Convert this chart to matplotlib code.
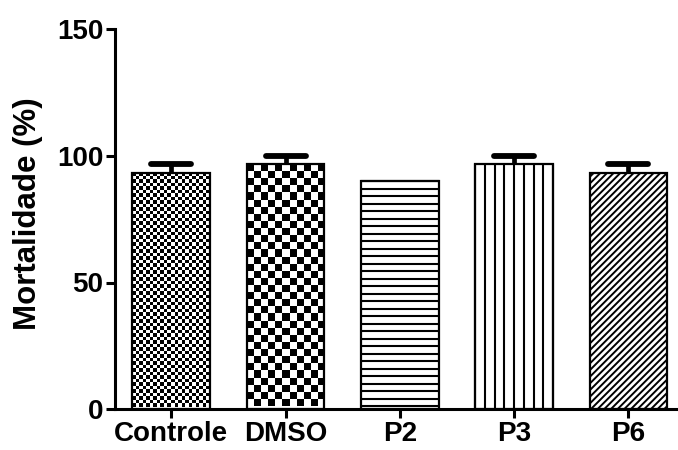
import numpy as np
import matplotlib
matplotlib.use("Agg")
import matplotlib.pyplot as plt

# data
groups = ["Controle", "DMSO", "P2", "P3", "P6"]
mortality = [93.33, 96.67, 90.0, 96.67, 93.33]
sem = [3.33, 3.33, 0.0, 3.33, 3.33]
yticks = [0, 50, 100, 150]

plt.rcParams["font.family"] = ["Liberation Sans", "DejaVu Sans"]
plt.rcParams["font.weight"] = "bold"
plt.rcParams["hatch.linewidth"] = 1.4

fig = plt.figure(figsize=(6.78, 4.5), dpi=100)
ax = fig.add_axes([115 / 678, 41 / 450, 563 / 678, 379.5 / 450])

x = np.arange(len(groups))
width = 0.68
bars = ax.bar(x, mortality, width=width, facecolor="none", edgecolor="black",
              linewidth=1.6, zorder=3)
bars[4].set_hatch("/////")

ax.set_xlim(-0.492, 4.434)
ax.set_ylim(0, 150)

# pixel size helpers (layout is fixed)
def px_per_unit():
    p0 = ax.transData.transform((0, 0))
    p1 = ax.transData.transform((1, 1))
    return p1[0] - p0[0], p1[1] - p0[1]

pxx, pxy = px_per_unit()

# checkerboard fills for Controle and DMSO
for i, sq in [(0, 3.5), (1, 7.1)]:
    b = bars[i]
    x0, w, h = b.get_x(), b.get_width(), b.get_height()
    ncol = int(round(w * pxx / sq))
    nrow = int(round(h * pxy / sq))
    board = (np.indices((nrow, ncol)).sum(axis=0) % 2).astype(float)
    hh = nrow * sq / pxy
    im = ax.imshow(board, cmap="gray", interpolation="nearest", aspect="auto",
                   extent=(x0, x0 + w, h - hh, h), zorder=2)
    im.set_clip_path(b)

# horizontal lines for P2
b = bars[2]
x0, w, h = b.get_x(), b.get_width(), b.get_height()
ys = np.arange(h, 0, -7.5 / pxy)
ax.hlines(ys, x0, x0 + w, colors="black", linewidth=1.5, zorder=2)

# vertical lines for P3
b = bars[3]
x0, w, h = b.get_x(), b.get_width(), b.get_height()
xs = np.linspace(x0, x0 + w, 9)
ax.vlines(xs, 0, h, colors="black", linewidth=1.5, zorder=2)

ax.set_xlim(-0.492, 4.434)
ax.set_ylim(0, 150)

# error bars (upper only)
ax.errorbar(x, mortality, yerr=[np.zeros(len(sem)), sem], fmt="none",
            ecolor="black", elinewidth=3.4, capsize=0, zorder=4)
half = 20 / pxx
for xi, m, s in zip(x, mortality, sem):
    if s > 0:
        ax.hlines(m + s, xi - half, xi + half, colors="black", linewidth=4.2,
                  capstyle="round", zorder=4)

ax.spines["top"].set_visible(False)
ax.spines["right"].set_visible(False)
for sp in ["left", "bottom"]:
    ax.spines[sp].set_linewidth(2.2)

ax.set_yticks(yticks)
ax.set_xticks(x)
ax.set_xticklabels(groups)
ax.tick_params(axis="both", length=6.5, width=2.2, labelsize=20, pad=2)
for lab in ax.get_xticklabels() + ax.get_yticklabels():
    lab.set_fontweight("bold")

ax.set_ylabel("Mortalidade (%)", fontsize=22.5, fontweight="bold")
ax.yaxis.set_label_coords(-0.128, 0.515)

fig.savefig("out.png", dpi=100)
